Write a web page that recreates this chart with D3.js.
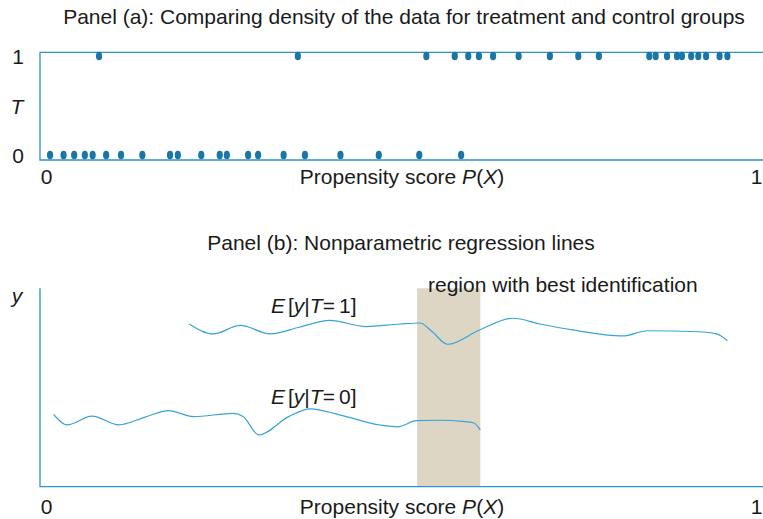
<!DOCTYPE html>
<html><head><meta charset="utf-8">
<script src="https://cdn.jsdelivr.net/npm/d3@7"></script>
<style>
body{margin:0;background:#fff;}
text{font-family:"Liberation Sans",Arial,sans-serif;fill:#1a1a1a;}
</style></head>
<body><svg id="c" width="763" height="519"></svg>
<script>
// Panel (a): propensity scores of control (T=0) and treated (T=1) units
const controlScores = [0.005,0.024,0.039,0.054,0.065,0.084,0.105,0.135,0.174,0.185,0.218,0.244,0.254,0.284,0.298,0.334,0.364,0.414,0.468,0.525,0.584];
const treatedScores = [0.074,0.354,0.535,0.575,0.594,0.609,0.629,0.665,0.709,0.749,0.778,0.849,0.858,0.874,0.888,0.895,0.908,0.918,0.929,0.948,0.959];
// Panel (b): nonparametric regression lines (y in arbitrary units 0-100)
const curveT1X = [0.201,0.235,0.273,0.315,0.357,0.399,0.450,0.498,0.526,0.543,0.565,0.610,0.657,0.695,0.741,0.812,0.846,0.920,0.944,0.959];
const curveT1Y = [82.0,77.0,81.3,77.0,80.5,83.8,80.7,82.0,82.5,78.2,71.8,79.0,84.9,82.0,79.0,76.0,78.6,78.1,77.0,73.6];
const curveT0X = [0.010,0.029,0.064,0.102,0.139,0.172,0.207,0.263,0.277,0.299,0.341,0.371,0.414,0.470,0.495,0.521,0.554,0.586,0.602,0.611];
const curveT0Y = [36.5,31.2,35.6,31.2,35.1,38.3,35.3,37.0,35.4,26.1,35.3,39.2,36.1,31.1,30.2,33.3,33.5,32.9,32.1,28.6];
const bestRegion = [0.522, 0.611];
const xTickLabels = ["0","1"];
const tTickLabels = ["0","1"];

const svg = d3.select("#c");
const axisColor = "#2b93c6", dotColor = "#1b75a5", lineColor = "#3aa3d4", shade = "#ddd6c4";
const FS = 21;

const x = d3.scaleLinear().domain([0,1]).range([46.5,756.5]);
// Panel a
const ya = d3.scaleLinear().domain([0,1]).range([155,56]);
const aTop = 52.3, aBot = 160, left = 40, right = 763;
svg.append("text").attr("x",404).attr("y",23.5).attr("text-anchor","middle").attr("font-size",FS)
  .text("Panel (a): Comparing density of the data for treatment and control groups");
svg.append("path").attr("d",`M${right},${aTop}H${left}V${aBot}H${right}`).attr("fill","none")
  .attr("stroke",axisColor).attr("stroke-width",1.3);
const dots = controlScores.map(v=>({p:v,t:0})).concat(treatedScores.map(v=>({p:v,t:1})));
svg.selectAll("ellipse.d").data(dots).join("ellipse").attr("class","d")
  .attr("cx",d=>x(d.p)).attr("cy",d=>ya(d.t)).attr("rx",3.1).attr("ry",4.3).attr("fill",dotColor);
tTickLabels.forEach((l,i)=>{
  svg.append("text").attr("x",18).attr("y",ya(+l)+7.5).attr("text-anchor","middle").attr("font-size",FS).text(l);
});
svg.append("text").attr("x",17).attr("y",113.5).attr("text-anchor","middle").attr("font-size",FS)
  .attr("font-style","italic").text("T");

function xAxisLabels(baseY){
  xTickLabels.forEach(l=>{
    svg.append("text").attr("x",x(+l)).attr("y",baseY).attr("text-anchor","middle").attr("font-size",FS).text(l);
  });
  const t = svg.append("text").attr("x",402).attr("y",baseY).attr("text-anchor","middle").attr("font-size",FS);
  t.append("tspan").text("Propensity score ");
  t.append("tspan").attr("font-style","italic").text("P");
  t.append("tspan").text("(");
  t.append("tspan").attr("font-style","italic").text("X");
  t.append("tspan").text(")");
}
xAxisLabels(184);

// Panel b
const yb = d3.scaleLinear().domain([0,100]).range([486.7,288.3]);
svg.append("text").attr("x",401).attr("y",249.5).attr("text-anchor","middle").attr("font-size",FS)
  .text("Panel (b): Nonparametric regression lines");
svg.append("rect").attr("x",x(bestRegion[0])).attr("width",x(bestRegion[1])-x(bestRegion[0]))
  .attr("y",yb(100)).attr("height",yb(0)-yb(100)).attr("fill",shade);
svg.append("path").attr("d",`M${left},${yb(100)}V${yb(0)}H${right}`).attr("fill","none")
  .attr("stroke",axisColor).attr("stroke-width",1.3);
const line = d3.line().x(d=>x(d[0])).y(d=>yb(d[1])).curve(d3.curveMonotoneX);
svg.append("path").attr("d",line(curveT1X.map((v,i)=>[v,curveT1Y[i]]))).attr("fill","none")
  .attr("stroke",lineColor).attr("stroke-width",1.2);
svg.append("path").attr("d",line(curveT0X.map((v,i)=>[v,curveT0Y[i]]))).attr("fill","none")
  .attr("stroke",lineColor).attr("stroke-width",1.2);
svg.append("text").attr("x",428).attr("y",292).attr("font-size",FS).text("region with best identification");
svg.append("text").attr("x",17).attr("y",303).attr("text-anchor","middle").attr("font-size",FS)
  .attr("font-style","italic").text("y");
function eLabel(val, baseY){
  const t = svg.append("text").attr("x",271).attr("y",baseY).attr("font-size",FS);
  t.append("tspan").attr("font-style","italic").text("E");
  t.append("tspan").attr("dx",3).text("[");
  t.append("tspan").attr("font-style","italic").text("y");
  t.append("tspan").text("|");
  t.append("tspan").attr("font-style","italic").text("T");
  t.append("tspan").text("="+"\u2009"+val+"]");
}
eLabel(1, 312.5);
eLabel(0, 404);
xAxisLabels(514);
</script></body></html>
